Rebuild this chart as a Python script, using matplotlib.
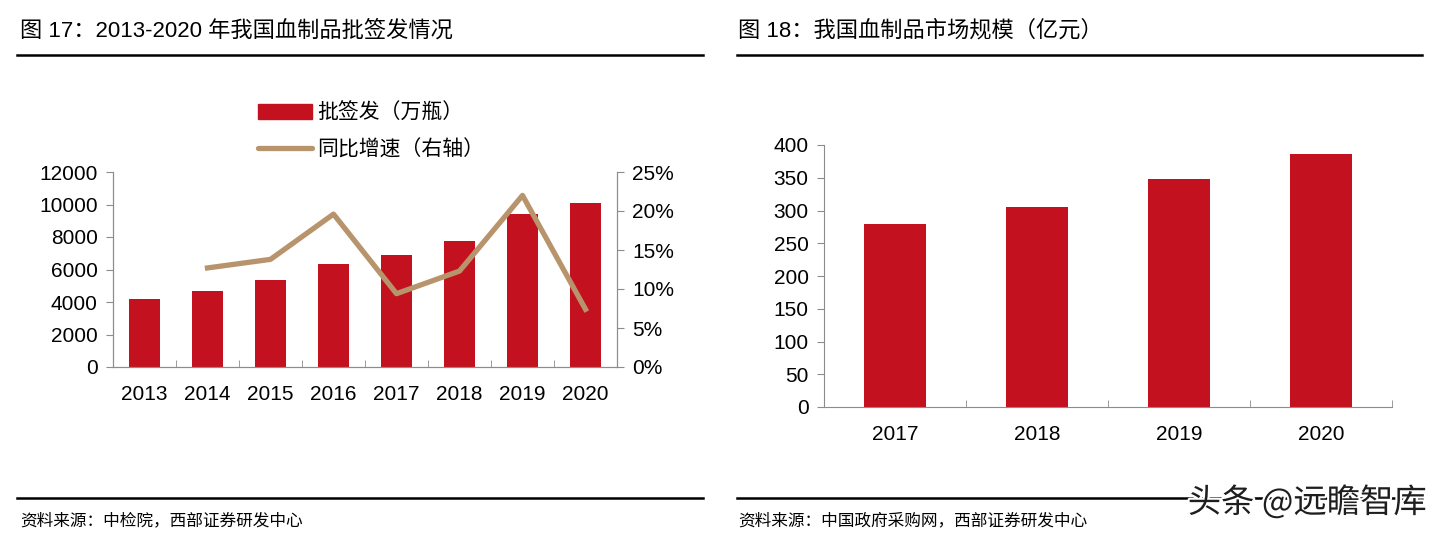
import matplotlib
matplotlib.use("Agg")
import matplotlib.pyplot as plt
import matplotlib.patheffects as pe
from matplotlib.lines import Line2D
from matplotlib.patches import Patch
from matplotlib.ticker import FuncFormatter, MultipleLocator
import numpy as np

plt.rcParams['font.family'] = ['Liberation Sans', 'Noto Sans CJK SC', 'DejaVu Sans']

# data
years_l = ["2013", "2014", "2015", "2016", "2017", "2018", "2019", "2020"]
batches = [4190, 4700, 5340, 6350, 6900, 7740, 9390, 10070]
growth = [np.nan, 12.7, 13.8, 19.6, 9.4, 12.3, 22.0, 7.4]

years_r = ["2017", "2018", "2019", "2020"]
market = [280, 306, 348, 386]

title_l = "图 17：2013-2020 年我国血制品批签发情况"
title_r = "图 18：我国血制品市场规模（亿元）"
source_l = "资料来源：中检院，西部证券研发中心"
source_r = "资料来源：中国政府采购网，西部证券研发中心"
label_bar = "批签发（万瓶）"
label_line = "同比增速（右轴）"
watermark = "头条 @远瞻智库"

RED = "#C3111F"
TAN = "#B8946C"
GREY = "#8C8C8C"

W, H = 1444, 541
fig = plt.figure(figsize=(W / 100, H / 100), dpi=100)


def box(x0, y0, x1, y1):
    return [x0 / W, 1 - y1 / H, (x1 - x0) / W, (y1 - y0) / H]


def style_cat_axis(ax, n):
    ax.set_xlim(-0.5, n - 0.5)
    ax.set_xticks(range(n))
    ax.set_xticks(np.arange(n + 1) - 0.5, minor=True)
    ax.tick_params(axis="x", which="major", length=0, pad=13, labelsize=15)
    ax.tick_params(axis="x", which="minor", direction="in", length=5, color=GREY)


# ---- left chart ----
ax1 = fig.add_axes(box(113, 172, 617, 367))
x = np.arange(len(years_l))
ax1.bar(x, batches, width=0.49, color=RED, zorder=2)
ax1.set_ylim(0, 12000)
ax1.yaxis.set_major_locator(MultipleLocator(2000))
ax1.set_xticklabels(years_l)
style_cat_axis(ax1, len(years_l))
ax1.tick_params(axis="y", length=5, color=GREY, labelsize=15, pad=6)
ax1.spines["top"].set_visible(False)
for s in ["left", "bottom", "right"]:
    ax1.spines[s].set_color(GREY)

ax2 = ax1.twinx()
ax2.plot(x, growth, color=TAN, lw=3.8, zorder=3)
ax2.set_ylim(0, 25)
ax2.yaxis.set_major_locator(MultipleLocator(5))
ax2.yaxis.set_major_formatter(FuncFormatter(lambda v, p: f"{v:.0f}%"))
ax2.tick_params(axis="y", length=5, color=GREY, labelsize=15, pad=6)
ax2.spines["top"].set_visible(False)
for s in ["left", "bottom", "right"]:
    ax2.spines[s].set_color(GREY)

handles = [Patch(color=RED, label=label_bar),
           Line2D([0], [0], color=TAN, lw=3.8, solid_capstyle="round", label=label_line)]
fig.legend(handles=handles, loc="upper left", bbox_to_anchor=(239 / W, 1 - 83 / H),
           frameon=False, handlelength=2.6, handleheight=0.75,
           handletextpad=0.25, labelspacing=0.72,
           prop={'family': ['Noto Sans CJK SC'], 'size': 15})

# ---- right chart ----
ax3 = fig.add_axes(box(824, 145, 1392, 407))
xr = np.arange(len(years_r))
ax3.bar(xr, market, width=0.44, color=RED, zorder=2)
ax3.set_ylim(0, 400)
ax3.yaxis.set_major_locator(MultipleLocator(50))
ax3.set_xticklabels(years_r)
style_cat_axis(ax3, len(years_r))
ax3.tick_params(axis="y", length=5, color=GREY, labelsize=15, pad=6)
for s in ["top", "right"]:
    ax3.spines[s].set_visible(False)
for s in ["left", "bottom"]:
    ax3.spines[s].set_color(GREY)

# ---- titles, rules, sources ----
fig.text(20 / W, 1 - 31 / H, title_l, fontsize=16, va="center", ha="left")
fig.text(738 / W, 1 - 31 / H, title_r, fontsize=16, va="center", ha="left")
for x0, x1 in [(17, 703), (737, 1422)]:
    for yy in (55, 498):
        fig.add_artist(Line2D([x0 / W, x1 / W], [1 - yy / H, 1 - yy / H], color="black", lw=1.8))
fig.text(20 / W, 1 - 521 / H, source_l, fontsize=12, va="center", ha="left",
         family=['Noto Sans CJK SC'])
fig.text(738 / W, 1 - 521 / H, source_r, fontsize=12, va="center", ha="left",
         family=['Noto Sans CJK SC'])

fig.text(1427 / W, 1 - 503 / H, watermark, fontsize=24, va="center", ha="right",
         color="#1E1E1E", family=['Noto Sans CJK SC'],
         path_effects=[pe.withStroke(linewidth=3, foreground="white")])

fig.savefig("out.png", dpi=100, facecolor="white")
